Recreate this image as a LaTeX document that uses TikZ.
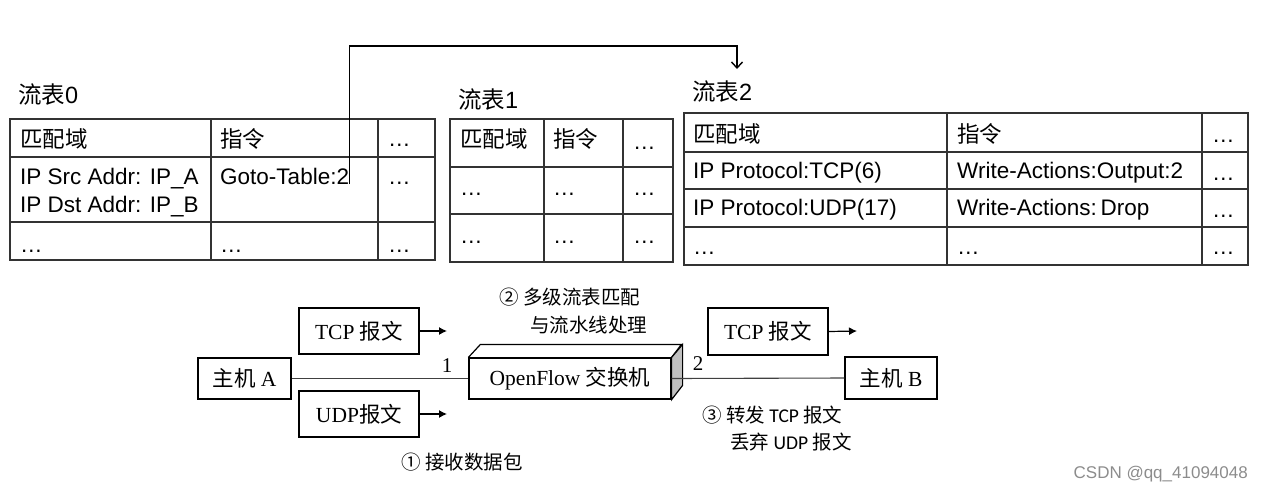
\documentclass[tikz,border=0pt]{standalone}
\usepackage{fontspec}
\setmainfont{Liberation Sans}
\newfontfamily\cjk{Noto Sans CJK SC}
\newfontfamily\timesfont{Liberation Serif}
\newfontfamily\calfont{Carlito}
\usetikzlibrary{arrows.meta}
\begin{document}
\begin{tikzpicture}[x=1pt,y=-1pt,
  tl/.style={draw=black!80,line width=1.3pt},
  cell/.style={anchor=base west,inner sep=0pt,font=\fontsize{22.5}{26}\selectfont},
  lbl/.style={anchor=base west,inner sep=0pt,font=\fontsize{23.5}{26}\selectfont},
  hbox/.style={draw,line width=1.2pt,inner sep=0pt,font=\fontsize{21.5}{24}\selectfont\timesfont},
  note/.style={anchor=base west,inner sep=0pt,font=\fontsize{19.5}{22}\selectfont\cjk},
  num/.style={inner sep=0pt,font=\fontsize{21}{24}\selectfont\timesfont},
  link/.style={line width=1.1pt,draw=black!75},
  sarr/.style={line width=1.2pt,-{Latex[length=8pt,width=8pt]}},
  jump/.style={line width=1.4pt,-{Straight Barb[length=6pt,width=11pt]}}]
\useasboundingbox (0,0) rectangle (1263,491);

% ---------- Flow table 0 ----------
\node[lbl] (t0) at (18,103) {{\cjk 流表}0};
\draw[tl] (10,119) rectangle (435,260);
\draw[tl] (10,157) -- (435,157) (10,222) -- (435,222)
          (211,119) -- (211,260) (378,119) -- (378,260);
\node[cell] (t0h1) at (20,147) {\cjk 匹配域};
\node[cell] (t0h2) at (220,147) {\cjk 指令};
\node[cell] (t0h3) at (388,146) {…};
\node[cell] (t0a) at (20,184) {IP Src Addr: IP\_A};
\node[cell] (t0b) at (20,212) {IP Dst Addr: IP\_B};
\node[cell] (g) at (220,184) {Goto-Table:2};
\node[cell] (t0c) at (388,184) {…};
\node[cell] (t0d1) at (20,252) {…};
\node[cell] (t0d2) at (220,252) {…};
\node[cell] (t0d3) at (388,252) {…};

% ---------- Flow table 1 ----------
\node[lbl] (t1) at (458,108) {{\cjk 流表}1};
\draw[tl] (450,119) rectangle (673,262);
\draw[tl] (450,167) -- (673,167) (450,214) -- (673,214)
          (544,119) -- (544,262) (623,119) -- (623,262);
\node[cell] (t1h1) at (460,147) {\cjk 匹配域};
\node[cell] (t1h2) at (553,147) {\cjk 指令};
\node[cell] (t1h3) at (633,149) {…};
\node[cell] (t1a1) at (460,195) {…};
\node[cell] (t1a2) at (553,195) {…};
\node[cell] (t1a3) at (633,195) {…};
\node[cell] (t1b1) at (460,243) {…};
\node[cell] (t1b2) at (553,243) {…};
\node[cell] (t1b3) at (633,243) {…};

% ---------- Flow table 2 ----------
\node[lbl] (t2) at (692,100) {{\cjk 流表}2};
\draw[tl] (684,113) rectangle (1248,265);
\draw[tl] (684,152) -- (1248,152) (684,189) -- (1248,189) (684,227) -- (1248,227)
          (947,113) -- (947,265) (1202,113) -- (1202,265);
\node[cell] (t2h1) at (693,142) {\cjk 匹配域};
\node[cell] (t2h2) at (957,142) {\cjk 指令};
\node[cell] (t2h3) at (1212,142) {…};
\node[cell] (t2a1) at (693,178) {IP Protocol:TCP(6)};
\node[cell] (t2a2) at (957,178) {Write-Actions:Output:2};
\node[cell] (t2a3) at (1212,180) {…};
\node[cell] (t2b1) at (693,215) {IP Protocol:UDP(17)};
\node[cell] (t2b2) at (957,215) {Write-Actions:\,Drop};
\node[cell] (t2b3) at (1212,217) {…};
\node[cell] (t2c1) at (693,254) {…};
\node[cell] (t2c2) at (957,254) {…};
\node[cell] (t2c3) at (1212,254) {…};

% ---------- Goto-Table jump ----------
\coordinate (top) at (737,46);
\coordinate (a2) at (737,69);
\draw[jump] (g.base east) -- (g.base east |- top) -| (a2);

% ---------- Lower network ----------
\node[hbox,minimum width=93pt,minimum height=41pt] (ha) at (244.5,378.5) {{\cjk 主机} A};
\node[hbox,minimum width=120pt,minimum height=46pt] (tcpa) at (359,331) {TCP {\cjk 报文}};
\node[hbox,minimum width=120pt,minimum height=46pt] (udpa) at (359,414) {UDP{\cjk 报文}};
\node[hbox,minimum width=120pt,minimum height=47pt] (tcpb) at (768,331.5) {TCP {\cjk 报文}};
\node[hbox,minimum width=92pt,minimum height=42pt] (hb) at (891,378) {{\cjk 主机} B};

% switch box
\node[hbox,minimum width=202pt,minimum height=41pt] (sw) at (570,378.5) {OpenFlow {\cjk 交换机}};
\draw[line width=1.2pt] (sw.north west) -- ++(12,-13) -- ++(201,0) -- (sw.north east);
\draw[line width=1.2pt,fill=black!25] (sw.north east) -- ++(11,-13) -- ++(0,41) -- (sw.south east) -- cycle;

\draw[link] (ha.east) -- (sw.west);
\draw[link] (sw.east) -- (hb.west);

\coordinate (ta) at (447,331);
\coordinate (ua) at (447,414);
\coordinate (tb) at (857,331);
\draw[sarr] (tcpa.east) -- (ta);
\draw[sarr] (udpa.east) -- (ua);
\draw[sarr] (tcpb.east) -- (tb);

\node[num] (p1) at (447,366) {1};
\node[num] (p2) at (698,364) {2};

\node[note] (n2a) at (499,304) {② 多级流表匹配};
\node[note] (n2b) at (530,332) {与流水线处理};
\node[note] (n1) at (401,469) {① 接收数据包};
\node[note] (n3a) at (702,422) {③ 转发 {\calfont TCP} 报文};
\node[note] (n3b) at (730,449) {丢弃 {\calfont UDP} 报文};

\node[anchor=base east,inner sep=0pt,text=black!45,font=\fontsize{17}{20}\selectfont] (wm) at (1248,478) {CSDN @qq\_41094048};
\end{tikzpicture}
\end{document}
